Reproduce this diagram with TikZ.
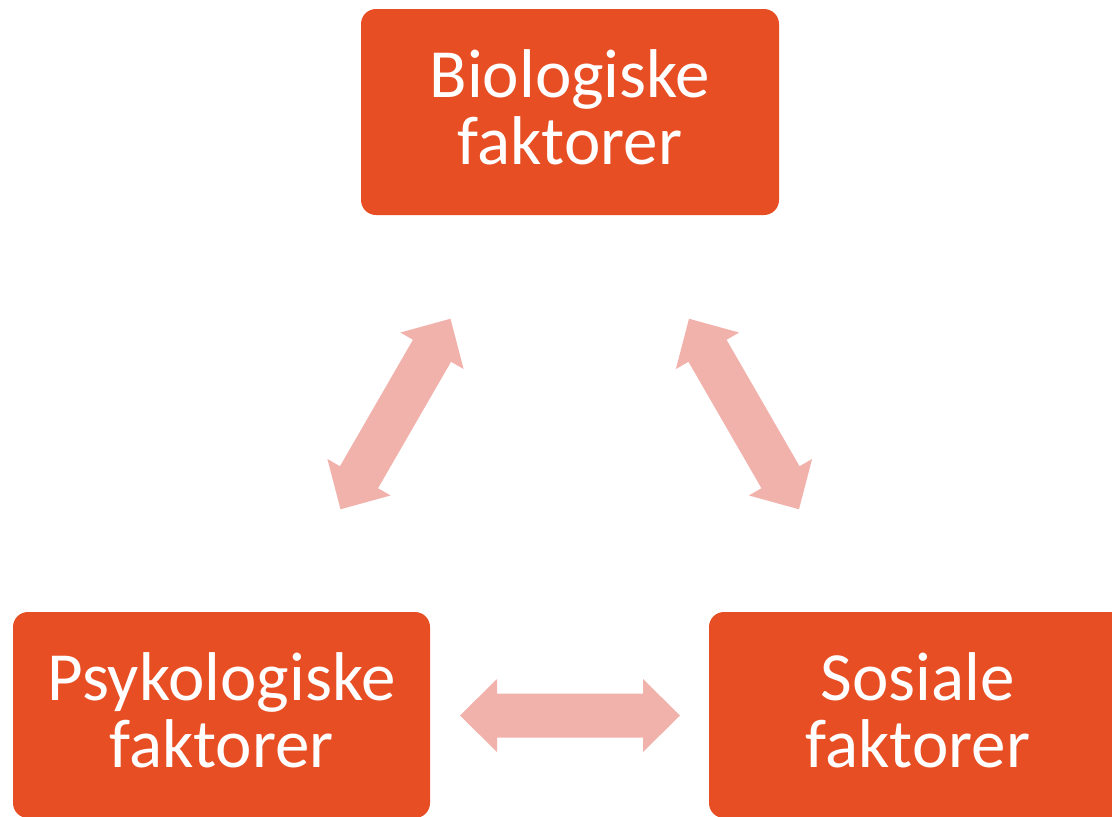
\documentclass[tikz,border=0pt]{standalone}
\usepackage{fontspec}
\setmainfont{Carlito}
\definecolor{boxfill}{HTML}{E84E24}
\definecolor{arrowfill}{HTML}{F2B2AC}
\tikzset{
  factor/.style={fill=boxfill, rounded corners=15pt, minimum width=418pt,
    minimum height=206pt, inner sep=0pt},
  factortext/.style={text=white, align=center, inner sep=0pt, yshift=4.5pt,
    font=\fontsize{69}{67}\selectfont},
  dblarrow/.pic={
    \fill[arrowfill] (-110,0) -- (-73,-36.5) -- (-73,-22) -- (73,-22)
      -- (73,-36.5) -- (110,0) -- (73,36.5) -- (73,22) -- (-73,22)
      -- (-73,36.5) -- cycle;
  }
}
\begin{document}
\begin{tikzpicture}[x=1pt,y=-1pt]
\useasboundingbox (0,0) rectangle (1112,817);
\begin{scope}
  \clip (0,0) rectangle (1112,817);
  \node[factor] (bio) at (570,112) {};
  \node[factor, minimum width=417pt] (psy) at (221.5,715) {};
  \node[factor] (sos) at (918,715) {};
\end{scope}
\node[factortext] (biotext) at (bio.center) {Biologiske\\faktorer};
\node[factortext] (psytext) at (psy.center) {Psykologiske\\faktorer};
\node[factortext] (sostext) at (sos.center) {Sosiale\\faktorer};
\pic[rotate=60] (a1) at (395.5,414) {dblarrow};
\pic[rotate=-60] (a2) at (744,414) {dblarrow};
\pic (a3) at (570,715.5) {dblarrow};
\end{tikzpicture}
\end{document}
